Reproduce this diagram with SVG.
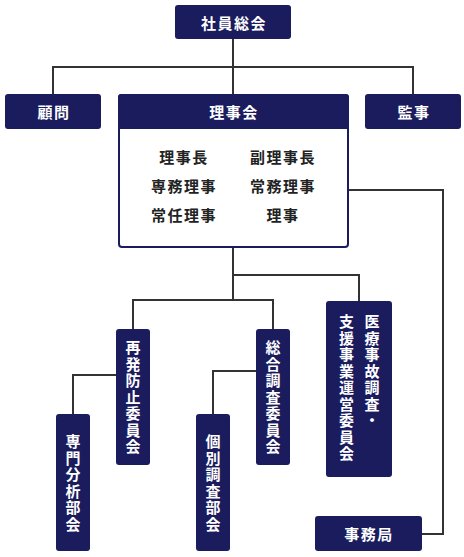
<svg xmlns="http://www.w3.org/2000/svg" width="464" height="557" viewBox="0 0 464 557">
<style>
.box{fill:#1a1c5e;}
.frame{fill:#fff;stroke:#1a1c5e;stroke-width:2;}
.lbl{font-family:"Noto Sans CJK JP","Noto Sans CJK SC",sans-serif;font-weight:bold;font-size:15px;letter-spacing:1.5px;fill:#fff;text-anchor:middle;dominant-baseline:central;}
.mem{font-family:"Noto Sans CJK JP","Noto Sans CJK SC",sans-serif;font-weight:bold;font-size:15px;letter-spacing:1.5px;fill:#222;text-anchor:middle;dominant-baseline:central;}
.v{writing-mode:vertical-rl;}
.vs{text-anchor:start;}
.con{fill:none;stroke:#333;stroke-width:2;}
</style>
<g id="connectors">
<path class="con" d="M233,39 V94 M53,94 V67 H413 V94"/>
<path class="con" d="M348,190 H443 V534 H422"/>
<path class="con" d="M233,247 V300 M233,275 H359 V301"/>
<path class="con" d="M133,329 V300 H273 V329"/>
<path class="con" d="M116,375 H73 V414"/>
<path class="con" d="M256,371 H213 V414"/>
</g>
<g id="n-shainsoukai">
<rect class="box" x="175" y="5" width="116" height="34" rx="3"/>
<text class="lbl" x="234" y="22">社員総会</text>
</g>
<g id="n-komon">
<rect class="box" x="5" y="94" width="96" height="35" rx="3"/>
<text class="lbl" x="54" y="111.5">顧問</text>
</g>
<g id="n-rijikai">
<rect class="frame" x="119" y="95" width="229" height="152" rx="3"/>
<path class="box" d="M118,129 V97 a3,3 0 0 1 3,-3 H346 a3,3 0 0 1 3,3 V129 Z"/>
<text class="lbl" x="234" y="111.5">理事会</text>
<text class="mem" x="184" y="156">理事長</text>
<text class="mem" x="283" y="156">副理事長</text>
<text class="mem" x="184" y="185">専務理事</text>
<text class="mem" x="283" y="185">常務理事</text>
<text class="mem" x="184" y="214">常任理事</text>
<text class="mem" x="283" y="214">理事</text>
</g>
<g id="n-kanji">
<rect class="box" x="365" y="94" width="96" height="35" rx="3"/>
<text class="lbl" x="414" y="111.5">監事</text>
</g>
<g id="n-saihatsu">
<rect class="box" x="116" y="329" width="34" height="136" rx="3"/>
<text class="lbl v" x="133" y="398">再発防止委員会</text>
</g>
<g id="n-sougou">
<rect class="box" x="256" y="329" width="34" height="136" rx="3"/>
<text class="lbl v" x="273" y="398">総合調査委員会</text>
</g>
<g id="n-iryou">
<rect class="box" x="326" y="301" width="66" height="176" rx="3"/>
<text class="lbl v vs" x="372" y="314">医療事故調査・</text>
<text class="lbl v vs" x="346.5" y="314">支援事業運営委員会</text>
</g>
<g id="n-senmon">
<rect class="box" x="56" y="414" width="34" height="137" rx="3"/>
<text class="lbl v" x="73" y="483.5">専門分析部会</text>
</g>
<g id="n-kobetsu">
<rect class="box" x="196" y="414" width="34" height="137" rx="3"/>
<text class="lbl v" x="213" y="483.5">個別調査部会</text>
</g>
<g id="n-jimukyoku">
<rect class="box" x="315" y="516" width="107" height="35" rx="3"/>
<text class="lbl" x="369" y="533.5">事務局</text>
</g>
</svg>
